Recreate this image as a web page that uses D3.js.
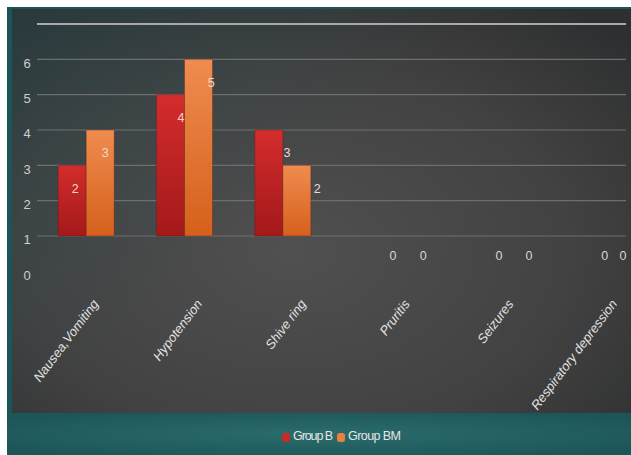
<!DOCTYPE html>
<html><head><meta charset="utf-8">
<script src="https://cdn.jsdelivr.net/npm/d3@7"></script>
<style>html,body{margin:0;padding:0;background:#fff;}svg{display:block;}</style>
</head><body>
<svg id="c" width="631" height="455"></svg>
<script>
const categories = ["Nausea,Vomiting","Hypotension","Shive ring","Pruritis","Seizures","Respiratory depression"];
const seriesNames = ["Group B","Group BM"];
const groupB = [2,4,3,0,0,0];
const groupBM = [3,5,2,0,0,0];
const yTicks = [0,1,2,3,4,5,6];

const svg = d3.select("#c");
const defs = svg.append("defs");

const rg = defs.append("radialGradient").attr("id","panel").attr("cx","0.45").attr("cy","0.6").attr("r","0.75");
rg.append("stop").attr("offset","0").attr("stop-color","#505050");
rg.append("stop").attr("offset","0.6").attr("stop-color","#424242");
rg.append("stop").attr("offset","1").attr("stop-color","#2e2f30");
const tl = defs.append("linearGradient").attr("id","tint").attr("x1","0").attr("y1","0").attr("x2","0.5").attr("y2","0.35");
tl.append("stop").attr("offset","0").attr("stop-color","#1d4c52").attr("stop-opacity",0.35);
tl.append("stop").attr("offset","1").attr("stop-color","#1d4c52").attr("stop-opacity",0);
const lg = defs.append("radialGradient").attr("id","leg").attr("cx","0.5").attr("cy","0.5").attr("r","0.6");
lg.append("stop").attr("offset","0").attr("stop-color","#2b6c6b");
lg.append("stop").attr("offset","1").attr("stop-color","#1d5659");
const gB = defs.append("linearGradient").attr("id","gB").attr("x1","0").attr("y1","0").attr("x2","0").attr("y2","1");
gB.append("stop").attr("offset","0").attr("stop-color","#d42c2c");
gB.append("stop").attr("offset","1").attr("stop-color","#a3191a");
const gBM = defs.append("linearGradient").attr("id","gBM").attr("x1","0").attr("y1","0").attr("x2","0").attr("y2","1");
gBM.append("stop").attr("offset","0").attr("stop-color","#ef8c4f");
gBM.append("stop").attr("offset","1").attr("stop-color","#d5601c");

svg.append("rect").attr("x",7).attr("y",7).attr("width",624).attr("height",448).attr("fill","#1d5458");
svg.append("rect").attr("x",12).attr("y",9).attr("width",619).attr("height",404).attr("fill","url(#panel)");
svg.append("rect").attr("x",12).attr("y",9).attr("width",619).attr("height",404).attr("fill","url(#tint)");
svg.append("rect").attr("x",7).attr("y",413).attr("width",624).attr("height",42).attr("fill","url(#leg)");

const y = d3.scaleLinear().domain([0,6]).range([236,24]);
const x0 = d3.scaleBand().domain(categories).range([37,627]).paddingInner(0.43).paddingOuter(0.215);
const x1 = d3.scaleBand().domain(seriesNames).range([0,x0.bandwidth()]);
const firstC = x0(categories[0]) + x0.bandwidth()/2;
const lastC = x0(categories[categories.length-1]) + x0.bandwidth()/2;
const labelX = d3.scaleLinear().domain([firstC-14,lastC-14]).range([firstC-11,lastC+27]);
const catX = d3.scaleLinear().domain([firstC,lastC]).range([firstC+13,lastC+40]);

const grid = svg.append("g");
grid.selectAll("line").data(yTicks).join("line")
  .attr("x1",37).attr("x2",626)
  .attr("y1",d=>y(d)).attr("y2",d=>y(d))
  .attr("stroke",d=>d===6?"#a9a9a9":"#6e6e6e")
  .attr("stroke-width",d=>d===6?2:1.2);

svg.append("g").selectAll("text").data(yTicks).join("text")
  .attr("x",27).attr("y",d=>y(d-1)+5)
  .attr("text-anchor","middle").attr("dominant-baseline","middle")
  .attr("fill","#cfcfcf").attr("font-family","Liberation Sans, Arial, sans-serif").attr("font-size",13)
  .text(d=>d);

const rows = categories.map((c,i)=>({c, vals:[{s:"Group B",v:groupB[i]},{s:"Group BM",v:groupBM[i]}]}));

const g = svg.append("g");
const grp = g.selectAll("g").data(rows).join("g").attr("transform",d=>`translate(${x0(d.c)},0)`);
grp.selectAll("rect").data(d=>d.vals.filter(e=>e.v>0)).join("rect")
  .attr("x",d=>x1(d.s)).attr("width",x1.bandwidth())
  .attr("y",d=>y(d.v)).attr("height",d=>y(0)-y(d.v))
  .attr("fill",d=>d.s==="Group B"?"url(#gB)":"url(#gBM)")
  .attr("stroke","#5a1a10").attr("stroke-opacity",0.35).attr("stroke-width",1);

const labs = [];
rows.forEach(r=>r.vals.forEach(e=>labs.push({c:r.c,s:e.s,v:e.v})));
svg.append("g").selectAll("text").data(labs).join("text")
  .attr("x",d=>Math.min(623, labelX(x0(d.c)+x1(d.s)+x1.bandwidth()/2)))
  .attr("y",d=>y(d.v)+(d.v===0?21:24))
  .attr("text-anchor","middle").attr("dominant-baseline","middle")
  .attr("fill",d=>d.v>0?"#f3d6cc":"#d6d6d6")
  .attr("font-family","Liberation Sans, Arial, sans-serif").attr("font-size",12.5)
  .text(d=>d.v);

svg.append("g").selectAll("text").data(categories).join("text")
  .attr("transform",d=>`translate(${catX(x0(d)+x0.bandwidth()/2)},${304}) rotate(-53)`)
  .attr("text-anchor","end")
  .attr("fill","#e2e2e2").attr("font-family","Liberation Sans, Arial, sans-serif")
  .attr("font-size",13).attr("font-style","italic")
  .text(d=>d);

const legend = svg.append("g").attr("transform","translate(282,437)");
const colors = {"Group B":"#c92a2a","Group BM":"#ea8040"};
let lx = 0;
seriesNames.forEach(s=>{
  legend.append("rect").attr("x",lx).attr("y",-4).attr("width",8).attr("height",9).attr("rx",2.5).attr("fill",colors[s]);
  legend.append("text").attr("x",lx+11).attr("y",0).attr("dominant-baseline","middle")
    .attr("fill","#e6e6e6").attr("font-family","Liberation Sans, Arial, sans-serif").attr("font-size",12.5)
    .attr("textLength", s==="Group B"?40:53).text(s);
  lx += s==="Group B"?55:0;
});
</script>
</body></html>
